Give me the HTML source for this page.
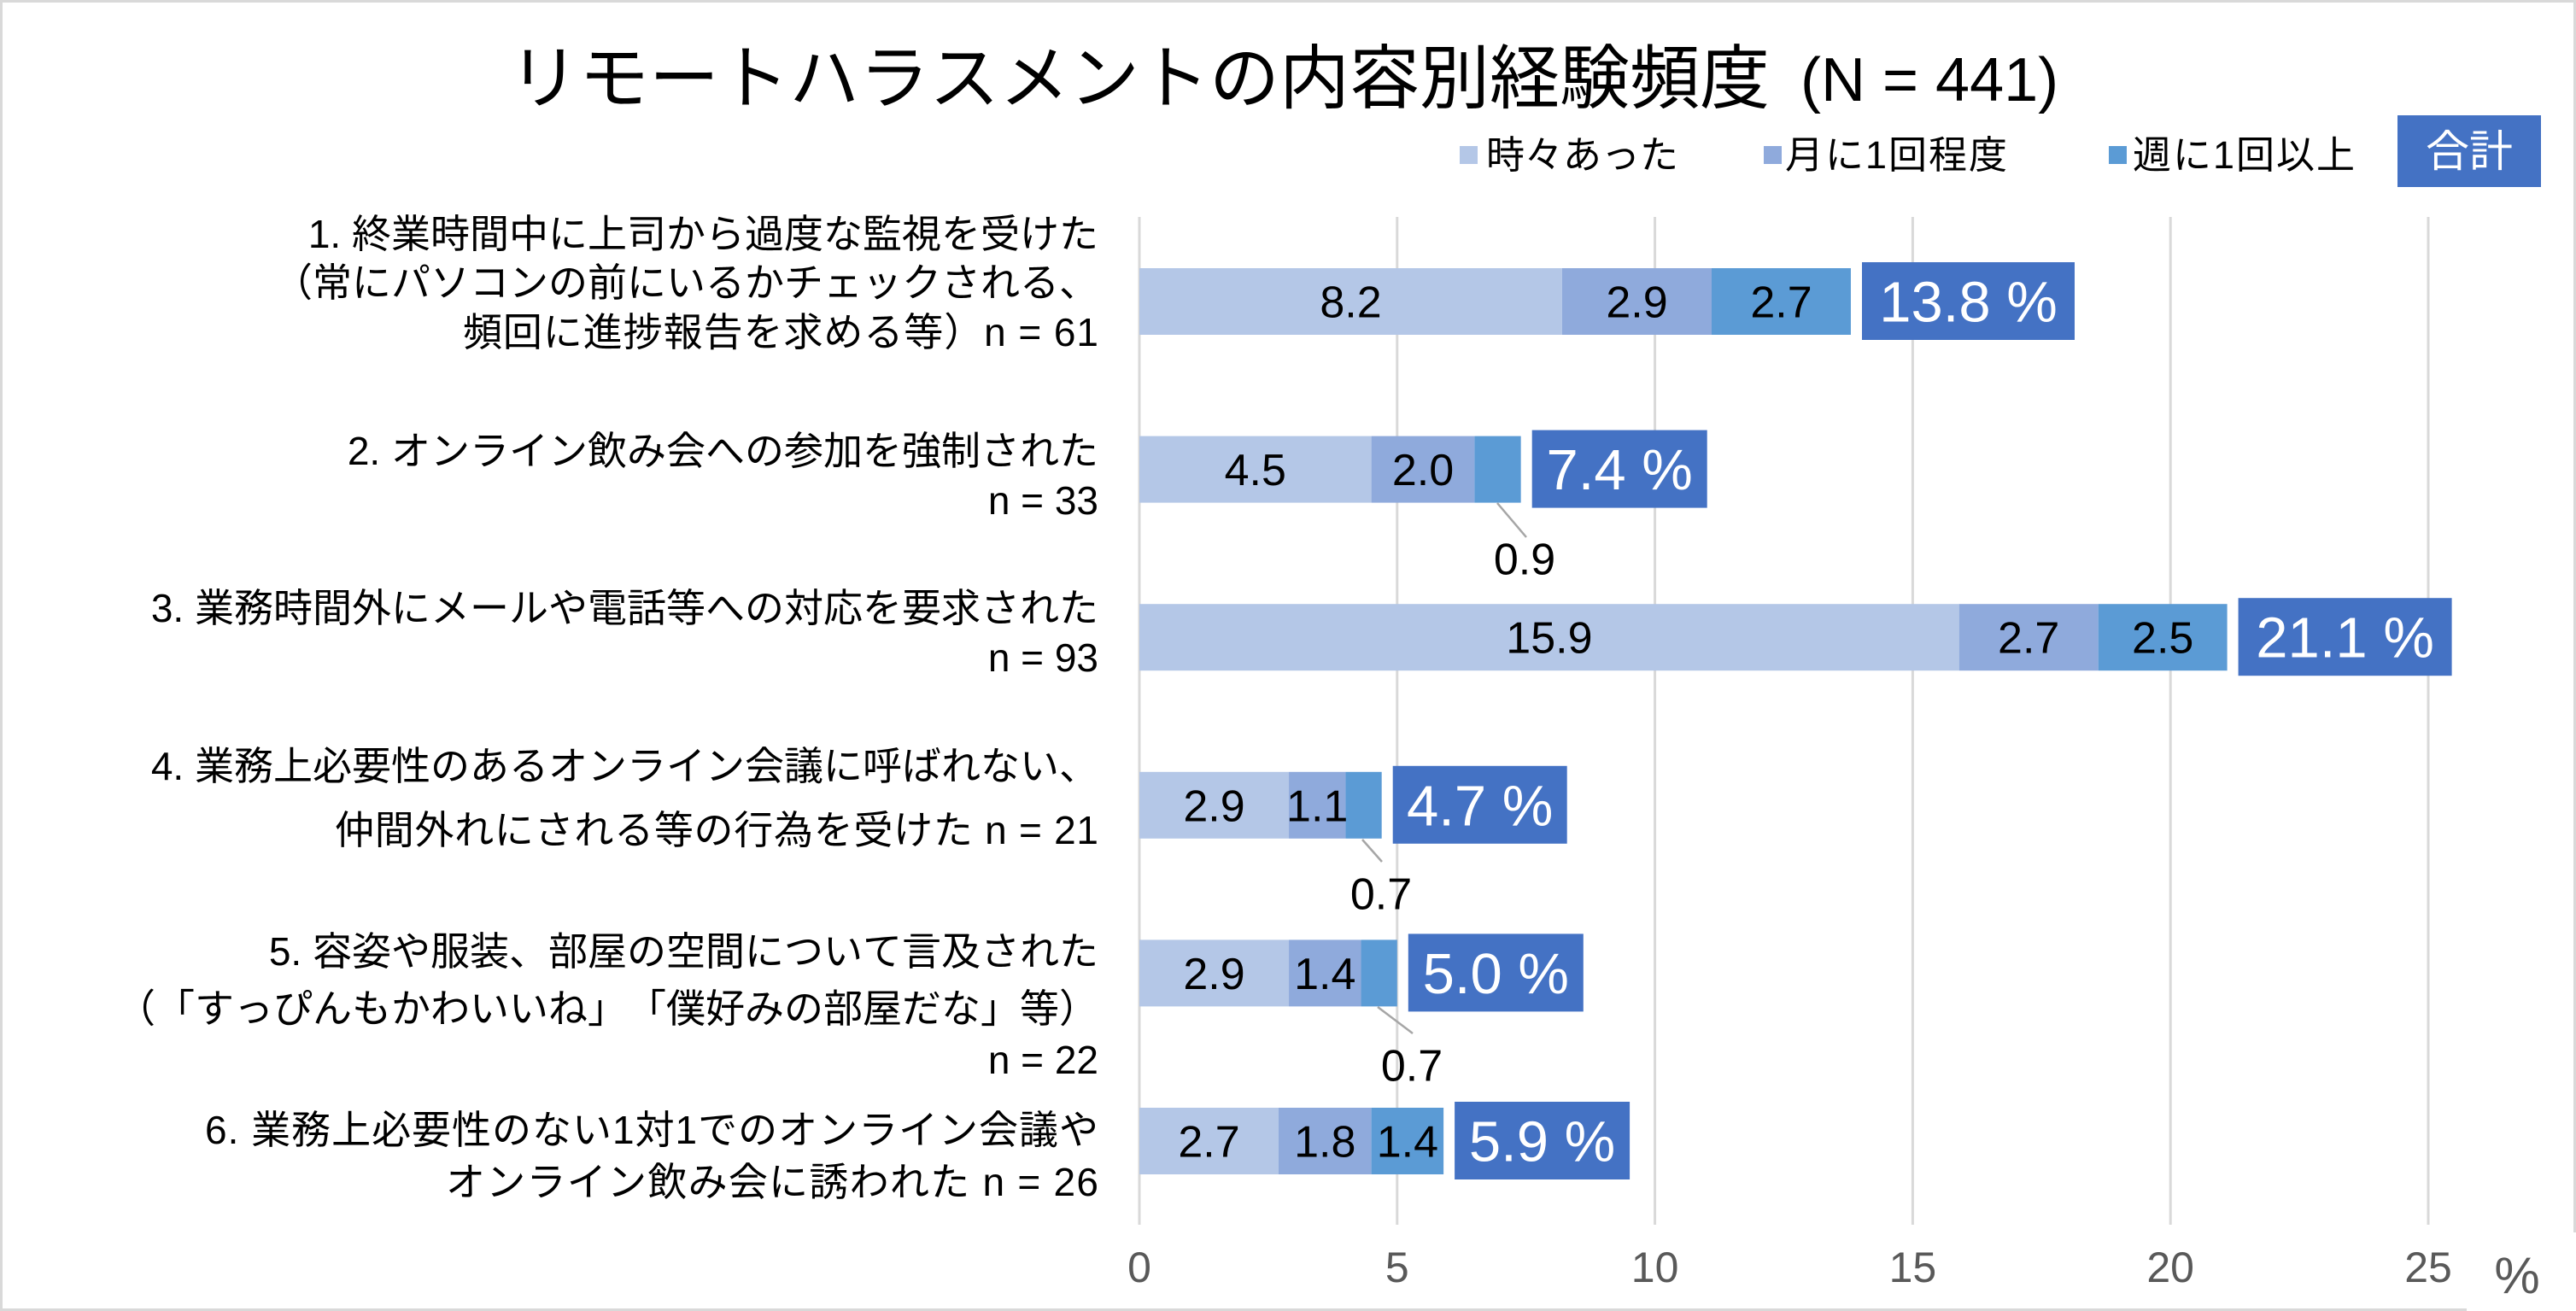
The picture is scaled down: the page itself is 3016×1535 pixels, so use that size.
<!DOCTYPE html>
<html><head><meta charset="utf-8"><style>
html,body{margin:0;padding:0;background:#fff;}
svg{display:block;}
text{font-family:"Liberation Sans","Noto Sans CJK JP",sans-serif;text-spacing-trim:space-all;font-kerning:none;}
</style></head><body>
<svg width="3016" height="1535" viewBox="0 0 3016 1535" xmlns="http://www.w3.org/2000/svg">
<rect x="0" y="0" width="3016" height="1535" fill="#fff"/>
<rect x="1.5" y="1.5" width="3013" height="1532" fill="none" stroke="#d9d9d9" stroke-width="3"/>
<rect x="2888" y="1443" width="128" height="92" fill="#fff"/>

<!-- Title -->
<text x="596" y="120" font-size="82" fill="#000">リモートハラスメントの内容別経験頻度</text>
<text x="2108" y="118" font-size="72" fill="#000">(N = 441)</text>

<!-- Legend -->
<rect x="1709" y="171" width="21" height="21" fill="#b4c7e7"/>
<text x="1740" y="197" font-size="45" fill="#000">時々あった</text>
<rect x="2065" y="171" width="21" height="21" fill="#8faadc"/>
<text x="2090" y="197" font-size="45" fill="#000" letter-spacing="2">月に1回程度</text>
<rect x="2469" y="171" width="21" height="21" fill="#5b9bd5"/>
<text x="2497" y="197" font-size="45" fill="#000" letter-spacing="2">週に1回以上</text>
<rect x="2807" y="135" width="168" height="84" fill="#4472c4"/>
<text x="2891" y="195" font-size="51" fill="#fff" text-anchor="middle">合計</text>

<!-- Gridlines -->
<g stroke="#d9d9d9" stroke-width="3">
<line x1="1334" y1="254" x2="1334" y2="1434"/>
<line x1="1635.8" y1="254" x2="1635.8" y2="1434"/>
<line x1="1937.6" y1="254" x2="1937.6" y2="1434"/>
<line x1="2239.4" y1="254" x2="2239.4" y2="1434"/>
<line x1="2541.2" y1="254" x2="2541.2" y2="1434"/>
<line x1="2843" y1="254" x2="2843" y2="1434"/>
</g>

<!-- Axis labels -->
<g font-size="50" fill="#595959" text-anchor="middle">
<text x="1334" y="1501">0</text>
<text x="1635.8" y="1501">5</text>
<text x="1937.6" y="1501">10</text>
<text x="2239.4" y="1501">15</text>
<text x="2541.2" y="1501">20</text>
<text x="2843" y="1501">25</text>
</g>
<text x="2947" y="1514" font-size="60" fill="#595959" text-anchor="middle">%</text>

<!-- Category labels -->
<g font-size="46" fill="#000" text-anchor="end">
<text x="1286" y="290">1. 終業時間中に上司から過度な監視を受けた</text>
<text x="1286" y="347" textLength="966" lengthAdjust="spacing">（常にパソコンの前にいるかチェックされる、</text>
<text x="1286" y="405" textLength="744" lengthAdjust="spacing">頻回に進捗報告を求める等）n = 61</text>

<text x="1286" y="544">2. オンライン飲み会への参加を強制された</text>
<text x="1286" y="602">n = 33</text>

<text x="1286" y="728">3. 業務時間外にメールや電話等への対応を要求された</text>
<text x="1286" y="786">n = 93</text>

<text x="1286" y="913">4. 業務上必要性のあるオンライン会議に呼ばれない、</text>
<text x="1286" y="988" textLength="894" lengthAdjust="spacing">仲間外れにされる等の行為を受けた n = 21</text>

<text x="1286" y="1130">5. 容姿や服装、部屋の空間について言及された</text>
<text x="1286" y="1197" textLength="1150" lengthAdjust="spacing">（「すっぴんもかわいいね」「僕好みの部屋だな」等）</text>
<text x="1286" y="1257">n = 22</text>

<text x="1286" y="1339" textLength="1046" lengthAdjust="spacing">6. 業務上必要性のない1対1でのオンライン会議や</text>
<text x="1286" y="1400" textLength="764" lengthAdjust="spacing">オンライン飲み会に誘われた n = 26</text>
</g>

<!-- Bars -->
<rect x="1334" y="314" width="494.95" height="78" fill="#b4c7e7"/>
<rect x="1828.95" y="314" width="175.05" height="78" fill="#8faadc"/>
<rect x="2004" y="314" width="162.97" height="78" fill="#5b9bd5"/>

<rect x="1334" y="510.6" width="271.62" height="78" fill="#b4c7e7"/>
<rect x="1605.62" y="510.6" width="120.72" height="78" fill="#8faadc"/>
<rect x="1726.34" y="510.6" width="54.32" height="78" fill="#5b9bd5"/>

<rect x="1334" y="707.2" width="959.72" height="78" fill="#b4c7e7"/>
<rect x="2293.72" y="707.2" width="162.98" height="78" fill="#8faadc"/>
<rect x="2456.7" y="707.2" width="150.9" height="78" fill="#5b9bd5"/>

<rect x="1334" y="903.8" width="175.04" height="78" fill="#b4c7e7"/>
<rect x="1509.04" y="903.8" width="66.4" height="78" fill="#8faadc"/>
<rect x="1575.44" y="903.8" width="42.25" height="78" fill="#5b9bd5"/>

<rect x="1334" y="1100.4" width="175.04" height="78" fill="#b4c7e7"/>
<rect x="1509.04" y="1100.4" width="84.51" height="78" fill="#8faadc"/>
<rect x="1593.55" y="1100.4" width="42.25" height="78" fill="#5b9bd5"/>

<rect x="1334" y="1297" width="162.97" height="78" fill="#b4c7e7"/>
<rect x="1496.97" y="1297" width="108.65" height="78" fill="#8faadc"/>
<rect x="1605.62" y="1297" width="84.5" height="78" fill="#5b9bd5"/>

<!-- Data labels -->
<g font-size="52" fill="#000" text-anchor="middle">
<text x="1581.5" y="371.5">8.2</text>
<text x="1916.5" y="371.5">2.9</text>
<text x="2085.5" y="371.5">2.7</text>

<text x="1469.8" y="568">4.5</text>
<text x="1666" y="568">2.0</text>
<text x="1785" y="672.5">0.9</text>

<text x="1813.9" y="764.7">15.9</text>
<text x="2375.2" y="764.7">2.7</text>
<text x="2532.2" y="764.7">2.5</text>

<text x="1421.5" y="961.3">2.9</text>
<text x="1542.2" y="961.3">1.1</text>
<text x="1617" y="1064.5">0.7</text>

<text x="1421.5" y="1158">2.9</text>
<text x="1551.3" y="1158">1.4</text>
<text x="1653" y="1265.5">0.7</text>

<text x="1415.5" y="1354.5">2.7</text>
<text x="1551.3" y="1354.5">1.8</text>
<text x="1647.9" y="1354.5">1.4</text>
</g>

<!-- Leader lines -->
<g stroke="#a6a6a6" stroke-width="2.5">
<line x1="1753" y1="589" x2="1787" y2="629"/>
<line x1="1595" y1="983" x2="1618" y2="1009"/>
<line x1="1613" y1="1179" x2="1654" y2="1210"/>
</g>

<!-- Total boxes -->
<rect x="2180" y="307" width="249" height="91" fill="#4472c4"/>
<rect x="1793.7" y="503.6" width="205" height="91" fill="#4472c4"/>
<rect x="2620.6" y="700.2" width="250" height="91" fill="#4472c4"/>
<rect x="1630.7" y="896.8" width="204" height="91" fill="#4472c4"/>
<rect x="1648.8" y="1093.4" width="205" height="91" fill="#4472c4"/>
<rect x="1703.1" y="1290" width="205" height="91" fill="#4472c4"/>
<g font-size="67" fill="#fff" text-anchor="middle">
<text x="2304.5" y="376.5">13.8 %</text>
<text x="1896.2" y="573.1">7.4 %</text>
<text x="2745.6" y="769.7">21.1 %</text>
<text x="1732.7" y="966.3">4.7 %</text>
<text x="1751.3" y="1162.9">5.0 %</text>
<text x="1805.6" y="1359.5">5.9 %</text>
</g>
</svg>
</body></html>
